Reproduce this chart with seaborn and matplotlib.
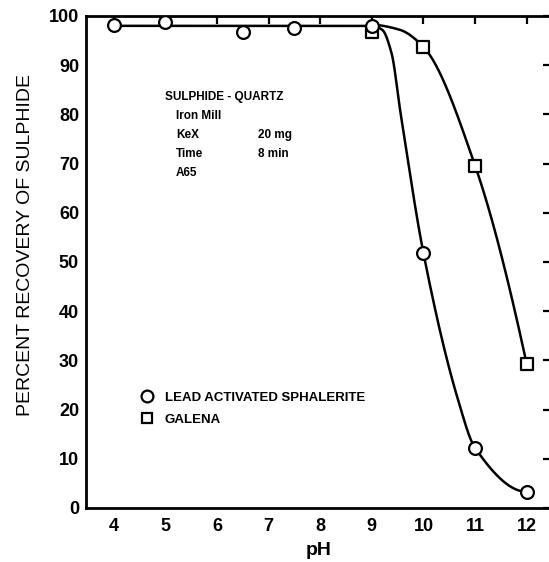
import numpy as np
import pandas as pd
import matplotlib
matplotlib.use("Agg")
import matplotlib.pyplot as plt
import seaborn as sns

# ---- data ----
sph_ph = [4, 5, 6.5, 7.5, 9, 10, 11, 12]
sph_rec = [98.2, 98.8, 96.8, 97.5, 98.0, 51.8, 12.2, 3.3]
gal_ph = [9, 10, 11, 12]
gal_rec = [96.8, 93.7, 69.6, 29.3]

# hand-drawn curves
sph_curve_ph = [4, 9, 9.2, 9.38, 9.56, 10, 10.67, 11, 12]
sph_curve_rec = [98.0, 98.0, 97.2, 92.5, 80.0, 51.8, 22.0, 12.2, 3.3]
gal_curve_ph = [9, 9.54, 10, 11, 12]
gal_curve_rec = [98.2, 97.2, 93.7, 69.6, 29.3]

x_ticks = [4, 5, 6, 7, 8, 9, 10, 11, 12]
y_ticks = [0, 10, 20, 30, 40, 50, 60, 70, 80, 90, 100]

legend_labels = ["LEAD ACTIVATED SPHALERITE", "GALENA"]
note_lines = ["SULPHIDE - QUARTZ", "Iron Mill", "KeX", "Time", "A65"]
note_values = ["20 mg", "8 min"]


def pchip(xk, yk, xs):
    xk = np.asarray(xk, float)
    yk = np.asarray(yk, float)
    h = np.diff(xk)
    d = np.diff(yk) / h
    n = len(xk)
    m = np.zeros(n)
    for k in range(1, n - 1):
        if d[k - 1] * d[k] <= 0:
            m[k] = 0
        else:
            w1 = 2 * h[k] + h[k - 1]
            w2 = h[k] + 2 * h[k - 1]
            m[k] = (w1 + w2) / (w1 / d[k - 1] + w2 / d[k])
    m[0] = ((2 * h[0] + h[1]) * d[0] - h[0] * d[1]) / (h[0] + h[1])
    if np.sign(m[0]) != np.sign(d[0]):
        m[0] = 0
    m[-1] = ((2 * h[-1] + h[-2]) * d[-1] - h[-1] * d[-2]) / (h[-1] + h[-2])
    if np.sign(m[-1]) != np.sign(d[-1]):
        m[-1] = 0
    out = np.empty_like(xs)
    for i, x in enumerate(xs):
        k = min(max(np.searchsorted(xk, x, side="right") - 1, 0), n - 2)
        t = (x - xk[k]) / h[k]
        h00 = 2 * t**3 - 3 * t**2 + 1
        h10 = t**3 - 2 * t**2 + t
        h01 = -2 * t**3 + 3 * t**2
        h11 = t**3 - t**2
        out[i] = h00 * yk[k] + h10 * h[k] * m[k] + h01 * yk[k + 1] + h11 * h[k] * m[k + 1]
    return out


sns.set_theme(style="white")
plt.rcParams["font.family"] = ["Liberation Sans", "DejaVu Sans"]
plt.rcParams["text.color"] = "black"
plt.rcParams["axes.labelcolor"] = "black"

fig = plt.figure(figsize=(5.49, 5.62), dpi=100)
ax = fig.add_axes([86 / 549, 54 / 562, 465 / 549, 492 / 562])

xs1 = np.linspace(sph_curve_ph[0], sph_curve_ph[-1], 900)
xs2 = np.linspace(gal_curve_ph[0], gal_curve_ph[-1], 300)
c1 = pd.DataFrame({"pH": xs1, "rec": pchip(sph_curve_ph, sph_curve_rec, xs1)})
c2 = pd.DataFrame({"pH": xs2, "rec": pchip(gal_curve_ph, gal_curve_rec, xs2)})
sns.lineplot(data=c1, x="pH", y="rec", ax=ax, color="black", lw=1.8, sort=False)
sns.lineplot(data=c2, x="pH", y="rec", ax=ax, color="black", lw=1.8, sort=False)

p1 = pd.DataFrame({"pH": sph_ph, "rec": sph_rec})
p2 = pd.DataFrame({"pH": gal_ph, "rec": gal_rec})
sns.scatterplot(data=p2, x="pH", y="rec", ax=ax, marker="s", s=70,
                facecolor="white", edgecolor="black", linewidth=1.6, zorder=3)
sns.scatterplot(data=p1, x="pH", y="rec", ax=ax, marker="o", s=85,
                facecolor="white", edgecolor="black", linewidth=1.6, zorder=4)

ax.set_xlim(3.46, 3.46 + 465 / 51.6)
ax.set_ylim(0, 100)
ax.set_xticks(x_ticks)
ax.set_yticks(y_ticks)
ax.set_xticklabels([str(v) for v in x_ticks], fontsize=13, fontweight="bold")
ax.set_yticklabels([str(v) for v in y_ticks], fontsize=13, fontweight="bold")
ax.tick_params(axis="both", direction="in", length=6, width=1.6, color="black",
               top=True, right=True, labelcolor="black", pad=5)
ax.tick_params(axis="x", pad=7)
for s in ["left", "bottom", "top"]:
    ax.spines[s].set_visible(True)
    ax.spines[s].set_color("black")
    ax.spines[s].set_linewidth(2)
ax.spines["right"].set_visible(False)

ax.set_xlabel("pH", fontsize=14, fontweight="bold", labelpad=5)
ax.set_ylabel("PERCENT RECOVERY OF SULPHIDE", fontsize=14, fontweight="medium")
ax.yaxis.set_label_coords((34 - 86) / 465, (508 - 245) / 492)


def px(xp, yp):
    return fig.transFigure.inverted().transform(
        fig.dpi_scale_trans.transform((xp / 100, (562 - yp) / 100)))


fs = 8.5
fig.text(*px(165, 97), note_lines[0], fontsize=fs, fontweight="bold", va="center")
ys = [116, 135, 154, 173]
for line, yv in zip(note_lines[1:], ys):
    fig.text(*px(176, yv), line, fontsize=fs, fontweight="bold", va="center")
fig.text(*px(258, 135), note_values[0], fontsize=fs, fontweight="bold", va="center")
fig.text(*px(258, 154), note_values[1], fontsize=fs, fontweight="bold", va="center")

# legend
h1 = plt.Line2D([], [], marker="o", ls="none", mfc="white", mec="black", mew=1.6, ms=8.5)
h2 = plt.Line2D([], [], marker="s", ls="none", mfc="white", mec="black", mew=1.6, ms=7.5)
leg = ax.legend([h1, h2], legend_labels, loc="upper left",
                bbox_to_anchor=tuple(px(132, 385)),
                bbox_transform=fig.transFigure, frameon=False,
                prop={"size": 9.5, "weight": "bold"}, handletextpad=0.8,
                labelspacing=0.75, borderpad=0, handlelength=1.2)

fig.savefig("out.png", dpi=100)
